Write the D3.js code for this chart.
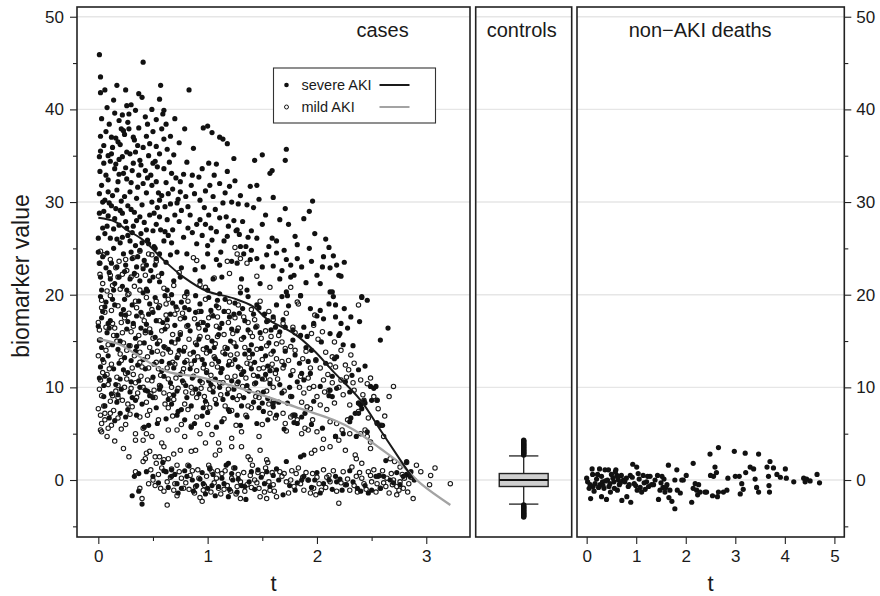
<!DOCTYPE html>
<html>
<head>
<meta charset="utf-8">
<script src="https://cdn.jsdelivr.net/npm/d3@7"></script>
<style>
  body { margin: 0; background: #fff; }
  text { font-family: "Liberation Sans", Arial, Helvetica, sans-serif; fill: #1a1a1a; }
</style>
</head>
<body>
<script>
// cases: severe AKI, [t, biomarker]
const severe = [
[0.01,45.9],[0.41,45.1],[0.02,41.8],[0.06,42.1],[0.17,42.6],[0.25,42.1],[0.37,41.7],[0.40,41.3],[0.57,42.6],[0.83,42.1],
[0.56,41.1],[0.26,40.4],[0.30,40.5],[0.34,39.9],[0.15,39.6],[0.22,39.4],[0.60,39.9],[0.59,39.5],
[0.10,38.4],[0.02,37.1],[0.21,37.9],[0.23,37.7],[0.37,38.0],[0.45,38.4],[0.58,37.9],[0.79,37.9],[0.96,38.0],[1.00,38.2],[1.04,37.5],[1.11,37.0],[1.14,36.8],[1.18,36.3],
[0.05,36.1],[0.13,35.9],[0.18,36.5],[0.26,35.4],[0.29,35.2],[0.41,35.9],[0.47,36.3],[0.60,36.8],[0.69,35.1],[0.87,35.8],[1.24,34.7],[1.43,34.5],[1.50,35.1],[1.72,35.7],[1.71,34.5],
[0.01,34.9],[0.05,34.2],[0.11,34.4],[0.15,33.6],[0.22,34.9],[0.32,34.2],[0.38,34.5],[0.50,34.2],[0.52,34.4],[0.60,33.6],[0.67,33.1],[0.81,34.3],[0.95,33.6],[1.01,34.2],[1.08,34.1],[1.18,33.3],[1.57,33.1],[1.59,33.4],
[0.015,33.3],[0.09,32.4],[0.18,32.2],[0.26,32.5],[0.30,32.1],[0.41,32.0],[0.49,31.8],[0.53,32.2],[0.62,32.1],[0.75,32.2],[0.85,31.8],[1.02,31.8],[1.11,32.0],[1.20,31.7],[1.39,31.7],[1.45,31.8],
[0.01,30.9],[0.06,30.2],[0.17,31.3],[0.24,30.6],[0.29,31.1],[0.35,30.4],[0.44,31.0],[0.49,30.0],[0.56,30.2],[0.66,29.8],[0.75,31.1],[0.93,30.2],[1.05,30.6],[1.22,30.0],[1.28,29.8],[1.36,29.7],[1.71,29.3],[1.96,30.1],
[0.05,29.0],[0.12,29.6],[0.22,28.8],[0.30,29.2],[0.38,28.4],[0.51,28.8],[0.56,28.4],[0.63,28.1],[0.76,29.1],[0.84,28.6],[0.93,28.1],[1.01,28.6],[1.11,28.3],[1.42,29.4],[1.93,29.0],[1.88,28.2],
[0.01,28.8],[0.08,27.4],[0.19,27.5],[0.25,27.9],[0.32,27.4],[0.44,27.0],[0.53,27.6],[0.68,27.0],[0.82,27.2],[0.90,27.6],[0.98,27.6],[1.08,26.8],[1.19,27.4],[1.27,27.0],[1.74,27.6],
[0.00,26.1],[0.11,26.1],[0.22,26.2],[0.29,25.8],[0.34,25.3],[0.40,25.6],[0.46,25.5],[0.60,25.8],[0.64,26.4],[0.78,26.2],[0.90,25.5],[1.00,25.3],[1.15,25.8],[1.26,26.9],[1.29,26.5],[1.37,26.2],[1.40,26.9],[1.45,26.1],[1.59,26.1],[1.63,25.8],
[0.00,24.6],[0.08,24.5],[0.14,25.0],[0.30,24.6],[0.38,24.8],[0.51,25.2],[0.56,24.4],[0.66,24.3],[0.72,24.6],[0.81,24.4],[1.00,24.4],[1.08,23.8],[1.22,23.6],[1.33,24.4],[1.45,23.9],[1.56,25.2],[1.63,24.5],[1.82,25.4],[1.93,25.0],[2.11,25.1],
[0.015,23.4],[0.12,23.4],[0.17,23.0],[0.25,23.2],[0.35,23.0],[0.44,23.2],[0.52,23.2],[0.76,22.9],[0.885,22.7],[0.96,23.0],[1.11,23.2],[1.27,23.4],[1.39,23.8],[1.72,23.8],[1.82,23.9],[2.05,23.0],[2.12,22.9],
[0.02,21.9],[0.11,21.7],[0.19,21.9],[0.29,21.7],[0.38,21.5],[0.47,21.5],[0.56,21.4],[0.69,21.5],[0.75,21.9],[0.93,21.5],[1.05,21.7],[1.13,21.9],[1.31,21.7],[1.48,21.2],[1.66,21.7],[1.76,21.9],[1.79,22.1],[2.20,22.1],[2.22,22.0],[2.03,21.2],
[0.03,20.5],[0.14,20.5],[0.26,20.5],[0.44,20.6],[0.63,20.5],[0.81,20.3],[1.00,20.5],[1.11,20.1],[1.36,20.5],[1.73,19.9],[1.85,19.9],[2.12,20.3],[2.15,19.8],[2.41,19.8],
[0.03,39.0],[0.07,37.6],[0.12,37.0],[0.16,36.9],[0.20,36.2],[0.24,37.3],[0.27,38.6],[0.28,37.9],[0.33,36.7],[0.36,36.1],[0.39,34.0],[0.43,33.4],[0.46,35.0],[0.48,32.9],[0.54,33.8],[0.55,31.0],[0.58,30.7],[0.61,29.5],[0.64,30.9],[0.70,28.6],[0.72,29.9],
[0.03,31.8],[0.07,32.9],[0.09,31.1],[0.13,30.7],[0.16,29.3],[0.19,33.0],[0.21,30.1],[0.27,29.6],[0.33,28.9],[0.36,31.6],[0.40,29.7],[0.42,27.8],[0.47,28.6],[0.50,26.9],[0.54,29.4],
[0.04,27.2],[0.06,26.6],[0.09,28.5],[0.14,27.1],[0.17,26.0],[0.20,25.6],[0.23,24.4],[0.27,26.4],[0.31,23.9],[0.36,24.1],[0.42,23.7],[0.48,22.6],[0.53,23.9],[0.58,22.3],[0.62,23.5],
[0.04,24.1],[0.07,22.9],[0.10,22.4],[0.15,21.2],[0.22,20.9],[0.24,22.5],[0.33,22.3],[0.41,22.8],[0.45,20.4],[0.50,21.9],
[0.12,35.2],[0.19,34.6],[0.25,33.7],[0.34,35.4],[0.44,37.1],[0.50,37.6],[0.53,36.0],[0.65,34.3],[0.71,32.6],[0.78,33.0],[0.80,30.6],[0.88,30.9],[0.92,32.7],[0.97,29.4],[1.03,27.2],[1.07,29.2],[1.14,29.9],[1.17,28.4],[1.24,28.0],[1.32,27.9],[1.35,25.2],[1.50,27.6],[1.54,24.3],[1.60,23.1],[1.68,22.6],[1.86,23.0],[1.90,21.3],[2.00,22.1],[2.06,24.1],[2.18,23.2],[2.46,19.4],
[0.02,43.5],[0.08,40.2],[0.14,41.0],[0.19,38.8],[0.28,39.5],[0.32,37.0],[0.43,39.2],[0.49,40.0],[0.53,38.9],[0.62,38.4],[0.66,37.1],[0.70,39.0],[0.74,36.4],[0.02,35.5],[0.09,35.0],[0.16,34.1],[0.23,33.1],[0.31,33.4],[0.37,32.9],[0.45,32.6],[0.56,35.2],[0.63,35.7],[0.68,31.4],[0.73,30.3],[0.82,29.5],[0.86,32.9],[0.98,31.2],[1.06,32.9],[1.16,31.0],[1.25,32.3],[1.30,30.7],[1.47,30.3],[1.53,28.6],[1.60,30.5],[1.66,28.1],[1.80,26.3],[1.98,26.6],[2.08,26.0],[2.15,24.2],[2.25,23.5],
[0.04,30.0],[0.10,29.9],[0.15,28.2],[0.20,29.1],[0.26,27.2],[0.31,26.7],[0.35,28.0],[0.39,26.6],[0.45,25.9],[0.52,25.0],[0.57,27.0],[0.61,26.8],[0.67,25.6],[0.74,27.9],[0.86,26.7],[0.95,26.4],[1.04,25.9],[1.12,24.6],[1.18,26.3],[1.30,25.2],[1.40,24.8],[1.50,23.0],[1.70,24.8],[1.76,23.2],[1.95,23.6],
[0.02,19.8],[0.06,18.7],[0.15,18.9],[0.24,19.5],[0.31,18.9],[0.37,19.3],[0.41,20.2],[0.47,19.0],[0.52,19.7],[0.61,19.9],[0.67,20.0],[0.76,19.2],[0.79,18.6],[0.89,19.9],[0.93,19.0],[1.01,19.7],[1.08,18.8],[1.16,19.5],[1.25,19.1],[1.30,20.2],[1.37,19.8],[1.47,18.6],
[0.03,17.5],[0.11,17.2],[0.21,17.9],[0.27,17.1],[0.35,17.7],[0.44,16.8],[0.50,18.1],[0.53,17.2],[0.66,17.9],[0.70,16.7],[0.79,17.5],[0.89,18.1],[0.96,17.0],[1.05,17.7],[1.13,16.9],[1.24,17.9],[1.34,17.2],[1.42,17.9],[1.54,17.1],
[0.00,16.6],[0.08,15.9],[0.17,15.6],[0.26,16.3],[0.34,15.3],[0.43,16.1],[0.52,15.4],[0.61,16.3],[0.67,14.9],[0.75,15.7],[0.84,16.1],[0.92,15.2],[0.98,16.2],[1.04,15.0],[1.10,15.7],[1.21,15.0],[1.27,16.1],[1.33,15.4],[1.40,14.6],[1.48,15.9],[1.56,14.8],
[0.03,14.3],[0.09,13.4],[0.18,14.1],[0.24,13.2],[0.34,13.9],[0.41,13.0],[0.49,13.8],[0.58,12.8],[0.64,14.1],[0.72,13.2],[0.79,12.7],[0.87,13.8],[0.95,13.0],[1.02,13.9],[1.10,12.8],[1.16,13.6],[1.25,13.0],[1.34,13.6],[1.43,12.7],[1.53,13.4],
[0.02,12.2],[0.06,11.2],[0.14,12.0],[0.20,10.9],[0.27,11.6],[0.37,10.7],[0.43,12.0],[0.50,11.1],[0.58,11.8],[0.66,10.5],[0.75,11.4],[0.84,12.0],[0.93,10.7],[0.99,11.6],[1.07,10.9],[1.13,12.0],[1.22,10.7],[1.31,11.4],[1.40,12.0],[1.50,10.9],[1.57,11.8],
[0.05,10.2],[0.12,9.3],[0.21,9.8],[0.31,8.9],[0.38,10.0],[0.47,9.1],[0.56,9.8],[0.64,8.7],[0.72,9.6],[0.81,8.9],[0.89,9.8],[0.98,8.5],[1.05,9.5],[1.14,8.7],[1.24,9.8],[1.33,8.9],[1.42,8.4],[1.51,9.5],
[0.06,8.0],[0.17,8.4],[0.27,7.6],[0.40,8.2],[0.53,7.8],[0.67,8.2],[0.76,7.6],[0.85,8.0],[0.96,7.8],[1.08,8.2],[1.19,7.6],[1.31,8.0],[1.47,7.8],
[0.01,15.1],[0.04,13.0],[0.07,19.2],[0.10,16.4],[0.13,14.6],[0.16,10.3],[0.19,12.6],[0.23,18.4],[0.28,14.5],[0.29,9.5],[0.32,16.9],[0.36,12.4],[0.39,18.1],[0.42,14.8],[0.45,9.6],[0.48,15.9],[0.51,12.5],[0.55,18.6],[0.57,10.1],[0.60,14.4],[0.63,17.3],[0.69,12.1],[0.71,18.7],[0.74,14.0],[0.77,10.7],[0.82,16.7],[0.86,11.0],[0.90,14.6],[0.94,18.2],[0.97,12.5],[1.00,16.7],[1.03,10.3],[1.06,14.3],[1.09,19.4],[1.12,11.6],[1.18,14.2],[1.20,17.6],[1.23,8.9],[1.28,12.2],[1.32,18.5],[1.36,10.2],[1.38,14.0],[1.44,16.5],[1.46,11.2],[1.52,17.9],[1.55,12.3],
[0.04,18.2],[0.09,16.9],[0.13,19.5],[0.20,15.0],[0.25,17.8],[0.30,12.9],[0.35,14.4],[0.39,16.4],[0.46,17.9],[0.54,14.7],[0.59,17.0],[0.65,12.6],[0.68,19.1],[0.73,15.2],[0.78,13.9],[0.83,18.4],[0.88,12.9],[0.91,16.8],[0.99,14.3],[1.03,18.3],[1.07,13.1],[1.11,16.4],[1.15,18.2],[1.19,12.4],[1.22,16.3],[1.26,14.4],[1.29,18.0],[1.33,11.7],[1.37,16.2],[1.41,13.6],[1.45,18.9],[1.49,14.2],[1.53,11.4],[1.58,16.2],
[0.01,11.0],[0.05,9.0],[0.10,10.8],[0.18,9.2],[0.23,11.9],[0.30,10.6],[0.34,8.6],[0.43,9.7],[0.50,8.9],[0.60,11.2],[0.69,9.2],[0.80,10.2],[0.92,9.3],[1.01,10.7],[1.11,10.0],[1.18,9.3],[1.28,10.6],[1.38,9.6],[1.44,10.5],[1.55,8.8],[1.66,10.3],[1.70,12.4],[1.75,10.0],[1.84,12.6],[1.90,14.3],[1.99,13.0],[2.08,12.6],[2.26,10.6],[2.33,14.5],[2.44,12.3],[2.28,16.4],[2.00,17.7],[1.74,18.8],[1.66,16.0],
[0.15,6.4],[0.20,7.2],[0.10,6.7],[0.35,7.0],[0.62,6.6],[0.95,6.9],[1.00,7.3],[1.13,6.3],[1.30,5.9],[1.55,6.5],[1.70,5.5],[1.95,6.0],
[1.63,18.9],[1.68,19.8],[1.72,20.3],[1.85,19.9],[1.94,18.5],[2.03,18.3],[2.11,19.0],[2.17,18.9],[2.14,20.3],[2.25,18.5],[2.31,17.6],[2.39,17.1],[2.41,19.7],[2.22,16.9],[2.17,17.6],[2.06,17.4],[1.97,16.9],[1.88,16.5],[1.78,16.2],[1.71,16.5],[1.62,16.5],[1.60,17.6],[1.69,17.3],[2.12,15.8],[2.20,15.6],[2.21,15.8],[2.24,14.6],[2.04,14.9],[1.95,14.0],[1.91,15.5],[1.85,15.6],[1.78,15.1],[1.60,13.9],[1.71,13.9],[1.80,13.5],[2.65,16.4],[2.58,15.1],[2.16,13.1],[2.18,13.3],[2.38,11.9],[2.32,11.3],[2.14,11.2],[1.94,11.5],[1.86,11.5],[1.88,10.8],[1.82,10.6],[1.76,11.3],[1.63,11.9],[2.03,10.1],[2.12,9.7],[2.18,9.9],[2.49,10.1],[2.52,9.9],[2.54,10.1],[2.11,9.1],[2.14,9.0],[2.38,8.3],[2.43,8.5],[2.50,8.6],[2.30,9.5],
[2.44,8.3],[2.40,8.1],[2.35,7.2],[2.30,6.3],[2.24,5.0],[2.46,5.2],[2.55,6.1],[2.59,5.9],[2.36,4.7],[2.17,4.7],[1.97,8.5],[1.92,12.8],[1.77,9.0],[1.73,8.3],[1.79,7.0],[1.86,6.8],[1.82,6.1],[1.68,9.4],[1.60,8.3],[1.57,10.4],[2.55,8.6],
[0.33,0.4],[0.37,0.7],[0.44,0.9],[0.31,-1.7],[0.37,-1.2],[0.40,-2.6],[0.50,0.4],[0.59,1.9],[0.60,1.0],[0.67,1.1],[0.67,0.4],[0.72,-0.4],[0.73,-1.4],[0.79,1.0],[0.81,0.4],[0.86,0.0],[0.90,-0.6],[0.93,0.1],[0.96,-0.4],[1.00,-0.9],[1.04,-0.6],[1.05,0.6],[1.07,-1.7],[1.10,-0.7],[1.17,1.6],[1.19,1.8],[1.22,0.7],[1.23,0.0],[1.20,-1.0],[1.19,-1.8],[1.28,0.1],[1.31,-0.6],[1.34,-0.7],[1.35,-2.1],[1.40,0.9],[1.49,0.3],[1.54,0.9],[1.57,-0.7],
[0.25,6.8],[0.42,5.7],[0.46,5.9],[0.54,6.1],[0.72,7.0],[0.73,7.4],[0.79,6.5],[0.85,5.7],[0.88,6.1],[1.08,5.7],[1.20,7.4],[1.27,7.0],[1.36,6.8],[1.45,6.1],[1.50,8.3],[1.51,7.4],[1.63,7.0],
[1.63,1.2],[1.65,0.0],[1.69,-1.6],[1.72,2.0],[1.80,-1.1],[1.82,-0.3],[1.86,0.0],[1.88,0.4],[1.92,0.0],[1.98,0.0],[2.03,-1.4],[2.06,-0.4],[2.11,0.0],[2.17,0.4],[2.18,-0.2],[2.21,0.1],[2.23,-1.1],[2.30,1.0],[2.33,-0.2],[2.37,-0.9],[2.40,-1.2],[2.50,-1.1],[2.54,0.4],[2.57,0.5],[2.63,2.1],[2.61,0.4],[2.67,0.0],[2.70,-0.3],[2.79,0.4],[2.82,0.6],[2.85,0.4],[2.89,0.0],[2.82,2.0],[1.79,6.2],[1.85,2.5],[1.88,2.7],
[1.60,7.9],[1.65,8.4],[1.80,7.0],[1.89,7.2],[2.05,5.6],[2.17,4.7],[2.31,6.7],[2.38,7.2],[2.55,6.2],[2.60,5.9],[2.38,8.3],[2.41,7.7],
[0.55,-0.3],[0.62,0.9],[0.64,-0.8],[0.70,0.6],[0.76,-0.9],[0.83,1.5],[0.87,-1.2],[0.95,0.8],[0.98,-1.5],[1.02,1.2],[1.13,0.2],[1.15,-0.4],[1.25,1.3],[1.27,-1.3],[1.38,-0.2],[1.43,-1.0],[1.46,1.1],[1.52,-0.4],[1.60,0.5],[1.75,-0.6],[1.95,-0.8],[2.00,0.8],[2.14,-1.0],[2.27,-0.5],[2.44,-0.6],[2.47,-1.4],[2.58,-0.9],[2.73,0.8],[2.76,-0.5],[2.86,0.9]
];

// cases: mild AKI, [t, biomarker]
const mild = [
[0.02,24.7],[0.05,24.3],[0.01,23.4],[0.11,23.8],[0.19,23.6],[0.25,23.8],[0.32,24.0],[0.38,24.7],[0.46,24.4],[0.49,24.3],[0.53,23.6],[0.87,24.0],[0.90,23.7],[1.18,23.6],[1.25,25.1],[1.27,24.4],[1.30,23.9],[1.36,23.4],[1.30,20.8],[1.57,20.8],[1.76,20.8],
[0.015,22.2],[0.11,22.1],[0.18,21.9],[0.22,22.2],[0.30,21.9],[0.35,22.1],[0.43,22.1],[0.20,20.6],[0.28,20.1],[0.38,20.5],[0.69,21.0],[0.81,20.1],[0.93,21.1],[0.98,20.8],
[0.04,21.2],[0.08,20.4],[0.13,21.0],[0.16,22.9],[0.26,22.6],[0.33,20.9],[0.41,23.1],[0.55,22.0],[0.60,20.7],[0.74,22.4],[1.06,21.8],[1.20,22.3],[1.45,22.0],
[0.03,19.4],[0.11,19.9],[0.18,18.8],[0.27,20.0],[0.35,18.6],[0.44,19.7],[0.56,18.8],[0.64,19.5],[0.72,18.4],[0.82,19.3],[0.92,18.2],[0.98,19.5],[1.10,18.6],[1.19,18.2],[1.28,18.9],[1.40,18.4],[1.48,19.3],[1.56,18.2],
[0.00,17.0],[0.06,18.1],[0.15,16.4],[0.24,17.5],[0.32,16.6],[0.40,17.7],[0.47,16.3],[0.56,17.2],[0.63,16.6],[0.75,17.4],[0.81,16.6],[0.92,16.4],[1.01,17.5],[1.08,16.6],[1.19,17.0],[1.28,16.4],[1.37,17.0],[1.45,16.6],[1.53,16.1],
[0.02,15.1],[0.09,14.6],[0.14,15.6],[0.23,14.8],[0.29,14.5],[0.38,14.8],[0.47,14.3],[0.56,15.0],[0.61,14.3],[0.70,14.8],[0.79,14.3],[0.89,14.8],[0.96,14.1],[1.07,14.7],[1.16,14.3],[1.24,14.8],[1.34,14.3],[1.45,14.1],[1.54,14.5],
[0.00,13.4],[0.05,12.7],[0.12,12.5],[0.21,12.9],[0.31,12.1],[0.38,12.7],[0.46,12.1],[0.53,12.7],[0.63,12.1],[0.70,12.5],[0.78,12.0],[0.85,12.5],[0.96,12.1],[1.04,12.5],[1.13,12.0],[1.22,12.5],[1.30,12.0],[1.39,12.5],[1.47,12.0],[1.59,12.5],
[0.02,10.8],[0.09,10.3],[0.17,11.1],[0.24,10.0],[0.34,10.5],[0.41,10.0],[0.49,10.7],[0.56,10.2],[0.67,10.0],[0.78,10.5],[0.85,10.0],[0.95,10.5],[1.02,9.8],[1.11,10.5],[1.19,9.8],[1.27,10.4],[1.36,9.8],[1.43,10.4],[1.54,9.6],
[0.03,9.1],[0.11,8.5],[0.18,8.9],[0.27,8.2],[0.35,8.9],[0.44,8.4],[0.52,8.9],[0.61,8.2],[0.69,8.7],[0.79,8.2],[0.90,8.9],[0.99,8.2],[1.07,8.7],[1.16,8.0],[1.27,8.7],[1.37,8.0],[1.47,8.9],[1.56,8.2],
[0.00,7.7],[0.14,7.5],[0.31,7.9],[0.47,7.5],[0.64,7.8],[0.82,7.6],[1.02,7.8],[1.22,7.5],[1.40,7.8],
[0.01,16.2],[0.04,11.6],[0.07,14.0],[0.10,12.0],[0.13,16.9],[0.16,9.6],[0.20,13.6],[0.22,15.9],[0.25,11.5],[0.28,18.0],[0.30,9.9],[0.33,13.4],[0.37,15.6],[0.39,11.2],[0.42,17.2],[0.45,13.3],[0.48,9.3],[0.50,15.3],[0.53,19.3],[0.57,11.3],[0.59,13.6],[0.62,17.8],[0.65,9.2],[0.68,15.7],[0.71,11.0],[0.73,13.5],[0.77,18.0],[0.80,9.5],[0.83,15.2],[0.87,11.2],[0.91,13.3],[0.94,17.0],[0.97,9.0],[1.00,15.4],[1.03,11.3],[1.06,13.3],[1.09,17.6],[1.12,9.2],[1.15,15.7],[1.18,11.1],[1.21,13.5],[1.25,17.5],[1.29,9.1],[1.31,15.2],[1.35,11.0],[1.38,13.2],[1.41,15.5],[1.44,9.0],[1.50,13.0],[1.52,10.9],[1.58,15.5],[1.60,10.0],
[0.03,18.6],[0.07,16.5],[0.12,18.3],[0.17,15.0],[0.21,17.0],[0.26,14.0],[0.30,16.0],[0.34,19.3],[0.38,13.8],[0.43,15.9],[0.49,18.4],[0.54,13.9],[0.58,16.1],[0.62,19.0],[0.66,13.8],[0.70,17.9],[0.75,15.9],[0.79,19.8],[0.84,13.6],[0.88,17.4],[0.93,15.5],[0.99,13.7],[1.04,17.8],[1.09,15.5],[1.14,13.8],[1.20,19.2],[1.23,15.8],[1.27,13.6],[1.33,17.6],[1.39,15.9],[1.43,17.3],[1.49,15.3],[1.55,17.2],[1.58,13.6],
[0.01,9.8],[0.05,8.0],[0.08,11.4],[0.13,9.1],[0.18,10.2],[0.22,8.6],[0.26,10.9],[0.32,11.4],[0.36,9.4],[0.40,12.2],[0.45,10.8],[0.51,9.7],[0.55,12.0],[0.60,9.4],[0.64,10.9],[0.68,12.7],[0.73,9.9],[0.77,11.6],[0.81,12.9],[0.86,9.4],[0.90,11.8],[0.94,9.9],[0.99,11.8],[1.05,10.0],[1.09,12.2],[1.14,10.5],[1.20,12.8],[1.25,11.2],[1.32,10.1],[1.36,12.6],[1.42,11.3],[1.46,9.4],[1.51,12.1],[1.57,10.8],
[0.06,6.5],[0.12,5.9],[0.18,6.7],[0.25,6.0],[0.29,7.1],[0.38,6.8],[0.45,7.0],[0.55,6.5],[0.68,6.9],[0.76,6.0],[0.90,6.8],[1.00,6.0],[1.15,6.6],[1.26,5.9],[1.35,7.0],[1.50,6.0],
[0.02,7.0],[0.06,7.2],[0.11,7.2],[0.03,6.1],[0.02,5.4],[0.03,5.2],[0.09,5.6],[0.08,4.7],[0.15,4.2],[0.21,5.5],[0.28,2.5],[0.23,3.4],[0.34,4.3],[0.41,4.3],[0.44,2.9],[0.47,3.1],[0.43,2.3],[0.41,2.0],[0.52,2.5],[0.56,2.5],[0.53,1.8],[0.60,2.2],[0.64,2.3],[0.69,2.8],[0.75,3.2],[0.85,3.1],[0.89,3.2],[1.07,2.7],[1.11,3.2],[1.10,4.0],[1.22,3.6],[1.31,3.6],[1.37,2.5],[1.39,2.2],[1.48,3.2],[1.54,2.2],[1.55,1.9],
[0.34,5.0],[0.41,5.6],[0.44,5.0],[0.49,4.7],[0.58,4.0],[0.60,3.6],[0.64,5.4],[0.72,5.4],[0.79,4.7],[0.85,5.8],[0.93,5.0],[0.98,4.0],[1.04,4.9],[1.22,4.5],[1.31,5.2],[1.47,4.7],
[0.34,0.9],[0.38,-0.9],[0.40,-2.0],[0.50,0.0],[0.52,-0.6],[0.58,1.3],[0.63,-0.2],[0.63,-2.7],[0.69,-1.1],[0.72,1.6],[0.76,0.2],[0.78,-0.9],[0.82,1.6],[0.84,0.5],[0.89,-0.7],[0.93,-1.9],[0.95,-2.3],[0.99,0.4],[1.01,1.6],[1.02,1.3],[1.08,0.2],[1.10,-0.9],[1.13,0.7],[1.22,0.2],[1.27,-0.7],[1.30,-0.2],[1.30,-2.0],[1.39,0.5],[1.43,0.0],[1.47,-0.9],[1.48,-1.8],[1.53,1.3],[1.54,-2.0],[1.56,-0.2],[1.57,-1.1],
[0.55,0.6],[0.60,-1.2],[0.66,0.3],[0.70,-0.4],[0.74,0.9],[0.80,-0.3],[0.86,1.0],[0.88,-1.4],[0.92,0.2],[0.97,-0.6],[1.04,0.9],[1.06,-0.3],[1.12,-1.5],[1.16,1.0],[1.18,-0.6],[1.24,1.3],[1.26,-1.5],[1.33,0.8],[1.36,-0.5],[1.41,1.6],[1.45,-0.3],[1.50,0.6],[1.52,-1.3],[1.59,0.8],
[0.46,-0.4],[0.48,1.1],[0.57,-0.9],[0.67,1.2],[0.72,-1.7],[0.83,-1.0],[0.91,1.1],[0.96,-1.1],[1.03,-1.3],[1.09,1.0],[1.15,-1.0],[1.21,-1.2],[1.28,0.6],[1.34,-1.2],[1.40,-0.8],[1.46,0.8],[1.61,-1.2],[1.70,0.7],[1.77,1.0],[1.87,0.3],[1.96,0.7],[2.04,-1.1],[2.09,0.3],[2.22,-0.3],[2.37,-1.3],[2.41,0.2],[2.47,0.9],[2.55,-0.4],[2.61,-0.3],[2.68,0.7],[2.80,0.2],[2.83,-1.3],
[1.57,7.2],[1.62,6.7],[1.71,6.1],[1.78,7.0],[1.86,5.0],[1.89,5.6],[1.92,5.4],[1.95,2.9],[1.98,3.2],[2.05,3.4],[2.12,3.6],[2.26,3.2],[2.35,2.7],[2.36,2.3],[2.41,1.8],[2.46,4.7],[2.49,4.1],[2.58,5.9],[2.61,4.7],[2.67,2.3],[2.71,2.0],[2.76,1.4],[2.82,1.9],[2.91,1.6],[2.95,0.9],[3.04,0.5],[3.08,1.3],[3.03,-0.5],[3.22,-0.4],[2.88,-2.0],
[2.73,-0.7],[2.75,-1.1],[2.73,-1.6],[2.76,-0.2],[2.79,-0.9],[2.69,-0.5],[2.70,0.0],[2.64,0.2],[2.56,0.4],[2.52,1.1],[2.49,0.5],[2.58,-0.9],[2.63,-0.7],[2.43,-0.4],[2.36,0.4],[2.32,1.4],[2.26,-0.5],[2.20,-2.5],[2.12,-0.2],[2.11,0.5],[2.06,1.1],[2.02,-0.4],[1.97,-0.9],[1.92,0.0],[1.88,-1.1],[1.85,-0.4],[1.83,1.3],[1.79,-0.7],[1.74,-1.4],[1.76,0.0],[1.72,-0.2],[1.66,0.9],[1.60,-0.5],[1.94,-1.4],[1.99,-1.6],[2.30,-1.1],[2.24,0.9],
[1.60,8.5],[1.69,7.2],[1.76,6.8],[1.82,6.5],[1.94,7.7],[2.09,7.6],[2.18,6.1],[2.23,5.4],[2.28,6.5],[2.40,5.0],[2.44,5.4],[2.49,3.4],[2.12,6.3],[2.00,5.2],
[1.63,-1.8],[1.68,0.4],[1.81,0.7],[1.90,0.8],[2.00,0.3],[2.08,-0.8],[2.15,1.0],[2.18,-1.2],[2.28,0.1],[2.34,-0.6],[2.39,0.8],[2.45,-1.0],[2.50,-0.2],[2.54,-1.3],[2.60,1.0],[2.66,-1.4],[2.78,0.6],[2.84,-0.4],[2.86,0.3],
[1.82,19.2],[1.83,19.0],[2.38,18.9],[1.72,18.0],[1.98,17.8],[1.78,16.5],[1.60,17.3],[1.69,16.9],[1.97,16.7],[2.16,14.9],[1.63,14.7],[1.71,14.2],[1.76,14.4],[1.80,14.0],[2.08,13.8],[2.31,13.5],[1.63,13.1],[1.68,12.8],[2.12,12.4],[2.17,12.2],[2.26,12.4],[2.34,12.6],[1.59,11.9],[1.62,11.5],[1.69,12.1],[1.94,12.1],[2.03,12.1],[2.29,11.9],
[2.06,10.8],[2.22,10.8],[2.40,10.8],[2.49,11.0],[1.97,10.1],[2.11,9.7],[2.34,9.7],[2.46,10.4],[2.70,10.1],[2.66,9.0],[2.55,8.6],[1.76,9.0],[1.88,9.4],[2.00,9.0],[2.24,9.2],[2.43,8.6],[2.56,7.7],[2.30,8.1],[2.16,8.3],[2.03,8.1],[1.91,7.9],
[1.65,15.6],[1.74,12.9],[1.85,11.2],[1.90,13.9],[2.01,15.2],[2.10,11.4],[1.93,9.9],[1.86,8.4],[2.20,10.0],[2.38,7.4],[2.47,6.7],[2.62,6.9],
[1.64,10.9],[1.70,9.6],[1.78,11.8],[1.84,10.0],[1.92,11.0],[1.99,12.9],[2.07,9.5],[2.14,10.5],[2.27,11.1],[2.33,10.5],[2.42,9.2],[2.52,9.0],[1.68,14.9],[1.80,15.9],[1.87,13.1],[1.95,15.8],[2.05,16.0],[2.14,13.3],[2.22,14.0],[1.72,5.3],[1.96,6.5],[2.06,4.4],[2.20,4.3],[2.30,5.0]
];

// smoothed trends per group
const severeFitT = [0.00, 0.15, 0.26, 0.41, 0.60, 0.78, 0.99, 1.24, 1.42, 1.54, 1.79, 1.97, 2.15, 2.40, 2.58, 2.76, 2.90];
const severeFitV = [28.3, 27.9, 27.0, 25.9, 23.7, 21.9, 20.4, 19.6, 18.7, 17.4, 15.8, 14.0, 11.7, 8.6, 5.4, 2.2, -0.2];
const mildFitT = [0.00, 0.20, 0.38, 0.63, 0.93, 1.24, 1.54, 1.85, 2.15, 2.34, 2.58, 2.76, 2.95, 3.22];
const mildFitV = [15.2, 14.6, 13.3, 11.7, 11.1, 10.1, 9.0, 7.7, 6.5, 5.4, 3.4, 1.8, -0.4, -2.7];

// controls: whisker low, q1, median, q3, whisker high
const controlBox = [-2.6, -0.7, 0.0, 0.7, 2.6];
const controlOutliers = [2.7,2.8,2.9,3.0,3.1,3.2,3.3,3.4,3.5,3.6,3.7,3.8,3.9,4.0,4.1,4.2,4.3,
  -2.7,-2.8,-2.9,-3.0,-3.1,-3.2,-3.3,-3.4,-3.5,-3.6,-3.7,-3.8,-3.9,-4.0];

// non-AKI deaths, [t, biomarker]
const deaths = [
[0.00,0.2],[0.02,-0.2],[0.07,-0.5],[0.08,-2.0],[0.11,1.2],[0.13,-0.7],[0.17,-0.4],[0.20,0.1],[0.26,1.2],[0.27,-0.5],[0.30,-1.8],[0.32,-0.2],[0.35,-0.9],[0.37,1.1],[0.40,-2.1],[0.42,0.0],[0.44,1.1],[0.47,-0.4],[0.48,-1.3],[0.53,0.2],[0.55,-0.2],[0.59,1.1],[0.61,0.5],[0.62,-1.1],[0.64,0.0],[0.66,-0.5],[0.71,-2.2],[0.74,0.0],[0.77,-0.2],[0.81,-1.8],[0.84,-0.7],[0.88,0.5],[0.89,-2.4],[0.93,1.7],[0.96,-0.4],
[1.01,1.4],[1.02,-1.1],[1.06,0.1],[1.08,-0.8],[1.11,-1.3],[1.14,0.5],[1.18,-1.0],[1.21,-0.2],[1.25,-0.7],[1.28,0.4],[1.31,-0.5],[1.38,0.0],[1.43,0.5],[1.45,-2.1],[1.48,-1.1],[1.52,0.4],[1.54,-0.8],[1.58,-1.3],[1.62,-0.5],[1.65,1.6],[1.66,-1.9],[1.68,-1.1],[1.72,-2.3],[1.78,-3.1],[1.78,0.0],[1.82,1.1],[1.83,-1.1],[1.89,-1.4],[1.92,0.0],[1.95,0.0],
[2.01,0.5],[2.12,-2.4],[2.15,1.8],[2.15,-0.9],[2.19,-0.4],[2.22,-1.1],[2.24,-1.6],[2.26,-0.5],[2.29,-1.3],[2.39,-1.3],[2.42,-1.3],[2.49,2.8],[2.50,0.5],[2.54,-1.7],[2.56,0.4],[2.59,1.4],[2.62,0.8],[2.64,-1.8],[2.66,3.5],[2.66,-1.3],[2.76,-1.3],[2.83,-1.1],[2.85,0.2],[2.98,3.1],
[3.00,0.4],[3.08,0.4],[3.10,-1.5],[3.13,-0.4],[3.16,-1.0],[3.20,2.9],[3.21,0.8],[3.30,1.4],[3.37,1.2],[3.40,0.1],[3.43,-0.8],[3.47,-1.3],[3.47,2.8],[3.64,1.4],[3.67,0.4],[3.68,-0.6],[3.69,-1.3],[3.70,2.0],[3.77,1.3],[3.84,0.6],[3.91,0.3],
[4.01,1.2],[4.03,0.2],[4.18,-0.2],[4.38,0.2],[4.41,-0.2],[4.44,0.1],[4.51,-0.1],[4.65,0.6],[4.70,-0.3],
[0.05,-0.9],[0.12,0.6],[0.15,-1.2],[0.22,0.6],[0.24,-0.8],[0.30,0.4],[0.33,-0.6],[0.38,-0.1],[0.45,-0.7],[0.50,0.6],[0.56,-0.9],[0.58,0.9],[0.63,0.3],[0.68,-0.3],[0.70,0.5],[0.80,0.2],[0.86,-0.5],[0.92,0.3],[0.99,-0.6],[1.04,0.7],[1.16,-0.3],[1.23,0.4],[1.35,-0.5],[1.50,-0.3],[1.56,0.1],[1.60,-0.8]
];

const yMajor = [0, 10, 20, 30, 40, 50];
const yMinor = [-5, 5, 15, 25, 35, 45];
const caseTicks = [0, 1, 2, 3];
const caseMinor = [0.5, 1.5, 2.5];
const deathTicks = [0, 1, 2, 3, 4, 5];
const panelTitles = ["cases", "controls", "non\u2212AKI deaths"];
const legendLabels = ["severe AKI", "mild AKI"];

const W = 880, H = 596;
const plotTop = 7, plotBottom = 537;
const p1 = [77, 470], p2 = [475.7, 571.7], p3 = [577, 844.3];

const svg = d3.select("body").append("svg")
    .attr("width", W)
    .attr("height", H)
    .style("background", "#fff");

const y = d3.scaleLinear().domain([-6.15, 51.05]).range([plotBottom, plotTop]);
const xCases = d3.scaleLinear().domain([-0.195, 3.4]).range(p1);
const xCtrl = d3.scaleBand().domain(["controls"]).range(p2).padding(0.325);
const xDeaths = d3.scaleLinear().domain([-0.195, 5.2]).range(p3);

// background grid in every panel
[p1, p2, p3].forEach(p => {
    svg.append("g")
        .selectAll("line")
        .data(yMajor)
        .join("line")
        .attr("x1", p[0]).attr("x2", p[1])
        .attr("y1", d => y(d)).attr("y2", d => y(d))
        .attr("stroke", "#e6e6e6")
        .attr("stroke-width", 1.4);
});

// cases scatter
svg.append("g")
    .selectAll("circle")
    .data(severe)
    .join("circle")
    .attr("cx", d => xCases(d[0]))
    .attr("cy", d => y(d[1]))
    .attr("r", 2.6)
    .attr("fill", "#111");

svg.append("g")
    .selectAll("circle")
    .data(mild)
    .join("circle")
    .attr("cx", d => xCases(d[0]))
    .attr("cy", d => y(d[1]))
    .attr("r", 2.2)
    .attr("fill", "none")
    .attr("stroke", "#1a1a1a")
    .attr("stroke-width", 1.1);

const fitLine = d3.line()
    .x(d => xCases(d[0]))
    .y(d => y(d[1]))
    .curve(d3.curveCatmullRom);

svg.append("path")
    .datum(mildFitT.map((t, i) => [t, mildFitV[i]]))
    .attr("d", fitLine)
    .attr("fill", "none")
    .attr("stroke", "#a3a3a3")
    .attr("stroke-width", 2.3);

svg.append("path")
    .datum(severeFitT.map((t, i) => [t, severeFitV[i]]))
    .attr("d", fitLine)
    .attr("fill", "none")
    .attr("stroke", "#1a1a1a")
    .attr("stroke-width", 2);

// controls boxplot
const cx = xCtrl("controls") + xCtrl.bandwidth() / 2;
const bw = xCtrl.bandwidth();
const box = svg.append("g");
box.append("line")
    .attr("x1", cx).attr("x2", cx)
    .attr("y1", y(controlBox[0])).attr("y2", y(controlBox[4]))
    .attr("stroke", "#222").attr("stroke-width", 1.3);
[controlBox[0], controlBox[4]].forEach(v => {
    box.append("line")
        .attr("x1", cx - bw * 0.3).attr("x2", cx + bw * 0.3)
        .attr("y1", y(v)).attr("y2", y(v))
        .attr("stroke", "#222").attr("stroke-width", 1.3);
});
box.append("rect")
    .attr("x", xCtrl("controls"))
    .attr("width", bw)
    .attr("y", y(controlBox[3]))
    .attr("height", y(controlBox[1]) - y(controlBox[3]))
    .attr("fill", "#cfcfcf")
    .attr("stroke", "#222")
    .attr("stroke-width", 1.4);
box.append("line")
    .attr("x1", xCtrl("controls")).attr("x2", xCtrl("controls") + bw)
    .attr("y1", y(controlBox[2])).attr("y2", y(controlBox[2]))
    .attr("stroke", "#111").attr("stroke-width", 2);
box.selectAll("circle")
    .data(controlOutliers)
    .join("circle")
    .attr("cx", cx)
    .attr("cy", d => y(d))
    .attr("r", 2.7)
    .attr("fill", "#111");

// non-AKI deaths scatter
svg.append("g")
    .selectAll("circle")
    .data(deaths)
    .join("circle")
    .attr("cx", d => xDeaths(d[0]))
    .attr("cy", d => y(d[1]))
    .attr("r", 2.6)
    .attr("fill", "#111");

// panel frames
[p1, p2, p3].forEach(p => {
    svg.append("rect")
        .attr("x", p[0]).attr("y", plotTop)
        .attr("width", p[1] - p[0]).attr("height", plotBottom - plotTop)
        .attr("fill", "none")
        .attr("stroke", "#222")
        .attr("stroke-width", 1.6);
});

// axes
function styleAxis(g, size) {
    g.select(".domain").remove();
    g.selectAll(".tick line").attr("stroke", "#222").attr("stroke-width", 1.1);
    g.selectAll("text").attr("font-size", size).attr("fill", "#1a1a1a");
}
const intFmt = d3.format("d");

svg.append("g").attr("transform", `translate(${p1[0]},0)`)
    .call(d3.axisLeft(y).tickValues(yMajor).tickSize(7).tickPadding(6).tickFormat(intFmt))
    .call(g => styleAxis(g, 17));
svg.append("g").attr("transform", `translate(${p1[0]},0)`)
    .call(d3.axisLeft(y).tickValues(yMinor).tickSize(4).tickFormat(""))
    .call(g => styleAxis(g, 17));
svg.append("g").attr("transform", `translate(${p3[1]},0)`)
    .call(d3.axisRight(y).tickValues(yMajor).tickSize(7).tickPadding(5).tickFormat(intFmt))
    .call(g => styleAxis(g, 17));
svg.append("g").attr("transform", `translate(${p3[1]},0)`)
    .call(d3.axisRight(y).tickValues(yMinor).tickSize(4).tickFormat(""))
    .call(g => styleAxis(g, 17));

svg.append("g").attr("transform", `translate(0,${plotBottom})`)
    .call(d3.axisBottom(xCases).tickValues(caseTicks).tickSize(7).tickPadding(6).tickFormat(intFmt))
    .call(g => styleAxis(g, 17));
svg.append("g").attr("transform", `translate(0,${plotBottom})`)
    .call(d3.axisBottom(xCases).tickValues(caseMinor).tickSize(4).tickFormat(""))
    .call(g => styleAxis(g, 17));
svg.append("g").attr("transform", `translate(0,${plotBottom})`)
    .call(d3.axisBottom(xDeaths).tickValues(deathTicks).tickSize(7).tickPadding(6).tickFormat(intFmt))
    .call(g => styleAxis(g, 17));

// axis titles
svg.append("text")
    .attr("x", (p1[0] + p1[1]) / 2).attr("y", 591)
    .attr("text-anchor", "middle").attr("font-size", 22)
    .text("t");
svg.append("text")
    .attr("x", (p3[0] + p3[1]) / 2).attr("y", 591)
    .attr("text-anchor", "middle").attr("font-size", 22)
    .text("t");
svg.append("text")
    .attr("transform", `translate(29,${(plotTop + plotBottom) / 2 + 4}) rotate(-90)`)
    .attr("text-anchor", "middle").attr("font-size", 23)
    .text("biomarker value");

// panel titles
const titleY = y(47.8);
svg.append("text").attr("x", xCases(2.6)).attr("y", titleY)
    .attr("text-anchor", "middle").attr("font-size", 20).text(panelTitles[0]);
svg.append("text").attr("x", cx - 2).attr("y", titleY)
    .attr("text-anchor", "middle").attr("font-size", 20).text(panelTitles[1]);
svg.append("text").attr("x", xDeaths(2.29)).attr("y", titleY)
    .attr("text-anchor", "middle").attr("font-size", 20).text(panelTitles[2]);

// legend
const lg = svg.append("g").attr("transform", "translate(273.5,68)");
lg.append("rect")
    .attr("width", 162).attr("height", 55)
    .attr("fill", "#fff").attr("stroke", "#333").attr("stroke-width", 1.1);
legendLabels.forEach((label, i) => {
    const row = lg.append("g").attr("transform", `translate(0,${17 + i * 22})`);
    row.append("circle")
        .attr("cx", 13).attr("cy", 0).attr("r", i === 0 ? 2.3 : 2.0)
        .attr("fill", i === 0 ? "#111" : "none")
        .attr("stroke", i === 0 ? "none" : "#1a1a1a")
        .attr("stroke-width", 1);
    row.append("text")
        .attr("x", 28).attr("y", 5)
        .attr("font-size", 14.5)
        .text(label);
    row.append("line")
        .attr("x1", 106).attr("x2", 136)
        .attr("stroke", i === 0 ? "#1a1a1a" : "#a3a3a3")
        .attr("stroke-width", 2);
});
</script>
</body>
</html>
